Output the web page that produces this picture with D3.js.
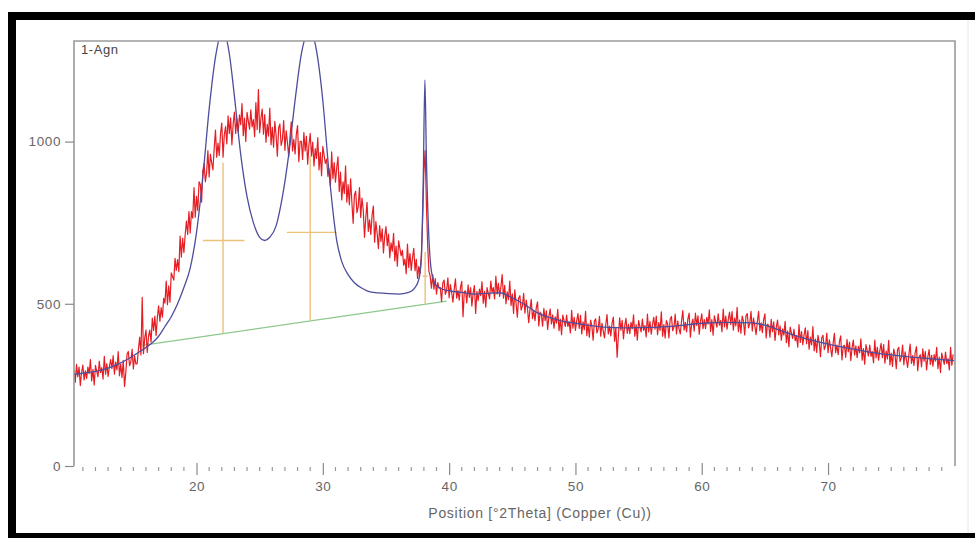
<!DOCTYPE html>
<html><head><meta charset="utf-8">
<script src="https://cdn.jsdelivr.net/npm/d3@7"></script>
<style>body{margin:0;background:#fff;}svg{display:block;font-family:"Liberation Sans",Arial,sans-serif;}</style>
</head><body>
<svg id="c" width="975" height="538"></svg>
<script>
// ---- data ----
const sampleLabel = "1-Agn";
const xTitle = "Position [°2Theta] (Copper (Cu))";
const xStart = 10.3, xStep = 0.1;
const counts = [
295,258,313,275,305,248,288,311,265,293,
270,305,285,328,262,298,250,310,292,275,
323,288,303,268,338,283,316,276,306,328,
300,340,283,320,296,353,278,314,273,326,
245,287,345,353,309,321,360,299,339,315,
315,360,397,342,520,346,394,419,350,400,
419,382,456,418,462,402,458,494,446,488,
459,517,502,570,497,555,505,595,584,573,
640,603,636,599,709,644,702,658,712,755,
714,784,718,784,764,858,767,831,788,876,
868,813,910,932,876,904,972,891,961,935,
913,980,1035,952,995,957,1024,1057,952,1021,
1046,993,1079,1025,1073,990,1054,1091,1025,1070,
1030,1082,1052,1117,1018,1072,1000,1090,1063,1038,
1098,1045,1068,1015,1120,1037,1160,1027,1072,1100,
1023,1083,998,1053,1017,1103,990,1044,983,1062,
1020,955,1042,1054,988,1006,1065,973,1033,997,
953,1013,1061,971,1007,962,1022,1049,938,1001,
1001,945,1028,971,1016,930,990,1025,956,998,
925,978,948,1012,913,967,895,985,958,933,
946,893,916,863,968,886,935,875,920,953,
846,906,820,876,840,925,813,867,805,885,
813,748,835,847,781,799,858,766,826,790,
705,765,813,723,759,714,774,801,690,753,
718,670,741,692,731,657,708,738,679,715,
642,688,662,717,632,678,616,694,671,648,
665,619,638,593,684,612,655,603,642,671,
602,637,578,615,593,650,760,905,972,810,
680,600,585,548,590,545,578,530,565,548,
550,507,565,573,529,541,580,519,559,535,
505,545,577,517,541,511,551,569,460,537,
540,503,558,520,550,493,533,556,470,538,
510,545,525,568,502,538,490,550,532,515,
570,535,550,515,585,530,563,523,553,590,
517,557,500,537,513,570,495,531,470,543,
502,459,517,525,481,493,532,471,511,487,
442,482,514,454,478,448,488,506,432,474,
468,431,486,448,478,421,461,484,438,466,
425,460,440,483,417,453,405,465,447,430,
465,430,445,410,480,425,458,418,448,470,
424,464,407,444,420,477,402,438,397,450,
431,388,446,454,410,422,461,400,440,416,
395,435,467,407,431,401,441,459,385,427,
335,402,457,419,449,392,432,455,409,437,
408,443,423,466,400,436,388,448,430,413,
453,418,433,398,468,413,446,406,436,458,
422,462,405,442,418,475,400,436,395,448,
438,395,453,461,417,429,468,407,447,423,
407,447,479,419,443,413,453,471,397,439,
453,416,471,433,463,406,446,469,423,451,
423,458,438,481,415,451,403,463,445,428,
469,434,449,414,484,429,462,422,452,474,
436,476,419,456,432,489,414,450,409,462,
447,404,462,470,426,438,477,416,456,432,
405,445,477,417,441,411,451,469,395,437,
434,397,452,414,444,387,427,450,404,432,
388,423,403,446,380,416,368,428,410,393,
421,386,401,366,436,381,414,374,404,426,
377,417,360,397,373,430,355,391,350,403,
380,337,395,403,359,371,410,349,389,365,
337,377,409,349,373,343,383,401,327,369,
372,335,390,352,382,325,365,388,342,370,
334,369,349,392,326,362,314,374,356,339,
373,338,353,318,388,333,366,326,356,378,
334,374,317,354,330,387,312,348,307,360,
343,300,358,366,322,334,373,312,352,328,
304,344,376,316,340,310,350,368,294,336,
343,306,361,323,353,296,336,359,313,341,
308,343,323,366,300,336,288,348,330,313,
351,316,331,296,366,311,344
];
const fitX = [10.3,11,12,13,14,15,16,16.5,17,17.5,18,18.5,19,19.5,20,20.5,21,21.5,22.1,22.6,23,23.5,24,24.5,25,25.4,25.8,26.3,26.8,27.3,27.8,28.3,29.0,29.5,30.0,30.5,31.1,31.5,32,32.5,33,33.5,34,35,36,36.8,37.3,37.6,37.8,37.95,38.08,38.2,38.4,38.6,38.9,39.3,40,41,42,43,44,45,46,47,48,49,50,52,54,56,58,60,62,64,65,66,67,68,70,72,74,76,78,80];
const fitY = [282,286,292,302,318,340,365,380,400,430,460,500,550,610,720,890,1100,1260,1345,1270,1140,960,830,750,705,695,705,740,830,960,1126,1270,1345,1280,1126,900,695,630,590,565,550,540,535,532,530,535,550,575,640,880,1190,950,700,600,560,548,540,535,530,532,534,518,497,472,457,446,440,429,426,427,432,440,443,441,434,421,407,395,376,360,347,338,331,325];
const baseX = [15.7, 39.8];
const baseY = [372, 508];
const peakPos = [22.1, 29.0, 38.1];
const peakTop = [935, 957, 660];
const peakBottom = [409, 449, 500];
const halfY = [695, 720, 585];
const halfL = [20.5, 27.15, 37.9];
const halfR = [23.8, 31.1, 38.3];
const xMajor = [20,30,40,50,60,70];
const xMinor = d3.range(11, 80, 1).filter(v => v % 10 !== 0);
const yTicks = [0,500,1000];

// ---- layout ----
const svg = d3.select("#c");
const L = 74, R = 955, T = 41, B = 466;
const x = d3.scaleLinear([10.3, 80.05], [L, R]);
const y = d3.scaleLinear([0, 1310], [B, T]);
const FONT = "Liberation Sans, Arial, sans-serif";

// outer frame
svg.append("rect").attr("x",8).attr("y",12).attr("width",967).attr("height",8).attr("fill","#000");
svg.append("rect").attr("x",8).attr("y",12).attr("width",8).attr("height",526).attr("fill","#000");
svg.append("rect").attr("x",8).attr("y",533).attr("width",967).attr("height",5).attr("fill","#000");
svg.append("line").attr("x1",968).attr("x2",968).attr("y1",20).attr("y2",533).attr("stroke","#e6e6e6").attr("stroke-width",1);

svg.append("defs").append("clipPath").attr("id","clip").append("rect")
  .attr("x",L).attr("y",T).attr("width",R-L).attr("height",B-T);
const g = svg.append("g").attr("clip-path","url(#clip)");

// baseline (green)
g.append("path").datum(baseX.map((d,i)=>[d,baseY[i]]))
  .attr("d", d3.line().x(d=>x(d[0])).y(d=>y(d[1])))
  .attr("fill","none").attr("stroke","#8dc88d").attr("stroke-width",1.3);

// peak markers (orange)
peakPos.forEach((p,i)=>{
  g.append("line").attr("x1",x(p)).attr("x2",x(p)).attr("y1",y(peakBottom[i])).attr("y2",y(peakTop[i]))
    .attr("stroke","#ebc27a").attr("stroke-width",1.4);
  g.append("line").attr("x1",x(halfL[i])).attr("x2",x(halfR[i])).attr("y1",y(halfY[i])).attr("y2",y(halfY[i]))
    .attr("stroke","#ebc27a").attr("stroke-width",1.4);
});

// measured data (red)
const meas = counts.map((c,i)=>[xStart + i*xStep, c]);
g.append("path").datum(meas)
  .attr("d", d3.line().x(d=>x(d[0])).y(d=>y(d[1])))
  .attr("fill","none").attr("stroke","#e61e24").attr("stroke-width",1.2).attr("stroke-linejoin","round");

// fitted profile (blue)
g.append("path").datum(fitX.map((d,i)=>[d,fitY[i]]))
  .attr("d", d3.line().x(d=>x(d[0])).y(d=>y(d[1])).curve(d3.curveMonotoneX))
  .attr("fill","none").attr("stroke","#4d4d9e").attr("stroke-width",1.3);

// plot frame (grey)
svg.append("path").attr("d",`M${L},${B}V${T}H${R}V${B}`).attr("fill","none").attr("stroke","#9a9a9a").attr("stroke-width",1.6);

// y axis
const ya = svg.append("g").attr("transform",`translate(${L},0)`)
  .call(d3.axisLeft(y).tickValues(yTicks).tickSize(9).tickPadding(4).tickFormat(d3.format("d")));
ya.select(".domain").remove();
ya.selectAll("line").attr("stroke","#8a8a8a").attr("stroke-width",1.2);
ya.selectAll("text").attr("fill","#666").attr("font-size",13.5).attr("letter-spacing",0.6).attr("font-family",FONT);

// x axis
const xa = svg.append("g").attr("transform",`translate(0,${B-3})`)
  .call(d3.axisBottom(x).tickValues(xMajor).tickSize(12).tickPadding(6).tickFormat(d3.format("d")));
xa.select(".domain").remove();
xa.selectAll("line").attr("stroke","#8a8a8a").attr("stroke-width",1.2);
xa.selectAll("text").attr("fill","#666").attr("font-size",13.5).attr("letter-spacing",0.6).attr("font-family",FONT);
svg.append("g").selectAll("line").data(xMinor).join("line")
  .attr("x1",d=>x(d)).attr("x2",d=>x(d)).attr("y1",B+1).attr("y2",B+5)
  .attr("stroke","#999").attr("stroke-width",1.2);

// texts
svg.append("text").attr("x",540).attr("y",518).attr("text-anchor","middle")
  .attr("font-size",14).attr("letter-spacing",0.7).attr("fill","#666").attr("font-family",FONT).text(xTitle);
svg.append("text").attr("x",81).attr("y",54).attr("font-size",13).attr("letter-spacing",0.6).attr("fill","#444").attr("font-family",FONT).text(sampleLabel);
</script>
</body></html>
